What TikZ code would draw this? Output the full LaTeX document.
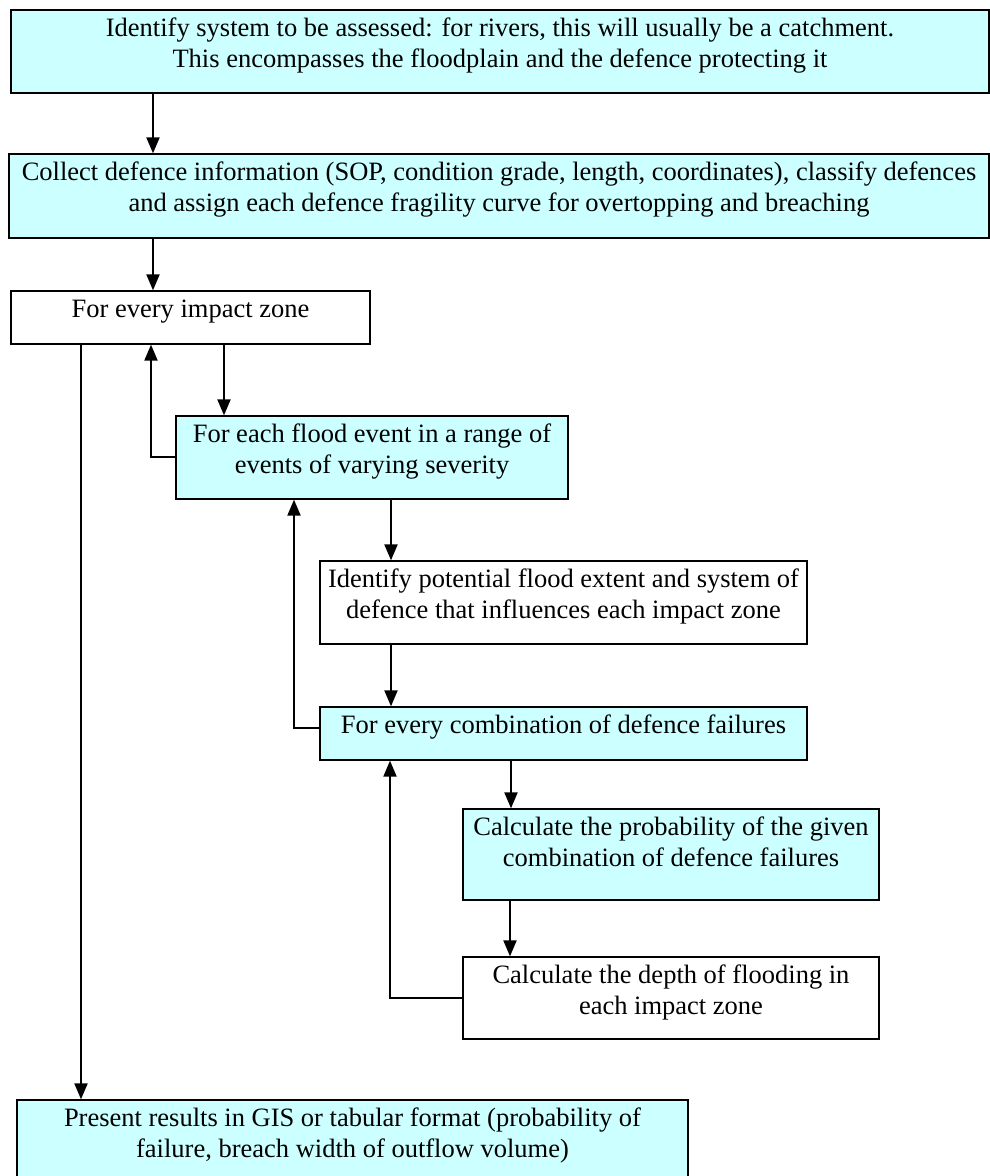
\documentclass[tikz,border=0pt]{standalone}
\usepackage{fontspec}
\setmainfont{Liberation Serif}
\usetikzlibrary{arrows.meta}
\definecolor{boxcyan}{RGB}{204,255,255}
\newcommand{\boxtxt}[3]{\parbox[c][#2][t]{#1}{\centering\rule{0pt}{26pt}#3}}
\tikzset{
  stage/.style={draw=black, line width=1.3pt, inner sep=0pt},
  cyanstage/.style={stage, fill=boxcyan},
  arr/.style={line width=2pt, -{Triangle[length=16pt,width=13pt]}}
}
\begin{document}
\begin{tikzpicture}[x=1pt,y=-1pt,font=\fontsize{26.5}{31}\selectfont]
\useasboundingbox (0,0) rectangle (990,1176);
\clip (0,0) rectangle (990,1176);
\node[cyanstage] (system) at (500,51.5) {\boxtxt{978pt}{83pt}{Identify system to be assessed: for rivers, this will usually be a catchment.\\
This encompasses the floodplain and the defence protecting it}};
\node[cyanstage] (collect) at (499,196) {\boxtxt{980pt}{84pt}{Collect defence information (SOP, condition grade, length, coordinates), classify defences\\
and assign each defence fragility curve for overtopping and breaching}};
\node[stage] (zone) at (190.5,317.5) {\boxtxt{359pt}{53pt}{For every impact zone}};
\node[cyanstage] (event) at (372,457.5) {\boxtxt{392pt}{83pt}{For each flood event in a range of\\
events of varying severity}};
\node[stage] (extent) at (563.5,602.5) {\boxtxt{487pt}{83pt}{Identify potential flood extent and system of\\
defence that influences each impact zone}};
\node[cyanstage] (combi) at (563.5,733.5) {\boxtxt{487pt}{53pt}{For every combination of defence failures}};
\node[cyanstage] (prob) at (671,854.5) {\boxtxt{416pt}{91pt}{Calculate the probability of the given\\
combination of defence failures}};
\node[stage] (depth) at (671,998) {\boxtxt{416pt}{82pt}{Calculate the depth of flooding in\\
each impact zone}};
\node[cyanstage] (result) at (352.5,1143) {\boxtxt{671pt}{86pt}{Present results in GIS or tabular format (probability of\\
failure, breach width of outflow volume)}};
% forward steps
\draw[arr] (system.south -| 153,0) -- (collect.north -| 153,0);
\draw[arr] (collect.south -| 153,0) -- (zone.north -| 153,0);
\draw[arr] (zone.south -| 224,0) -- (event.north -| 224,0);
\draw[arr] (event.south -| 391,0) -- (extent.north -| 391,0);
\draw[arr] (extent.south -| 391,0) -- (combi.north -| 391,0);
\draw[arr] (combi.south -| 511,0) -- (prob.north -| 511,0);
\draw[arr] (prob.south -| 510,0) -- (depth.north -| 510,0);
\draw[arr] (zone.south -| 81,0) -- (result.north -| 81,0);
% loops back
\draw[arr] ([yshift=0.5pt]event.west) -| (zone.south -| 151,0);
\draw[arr] ([yshift=5.5pt]combi.west) -| (event.south -| 294,0);
\draw[arr] (depth.west) -| (combi.south -| 390,0);
\end{tikzpicture}
\end{document}
